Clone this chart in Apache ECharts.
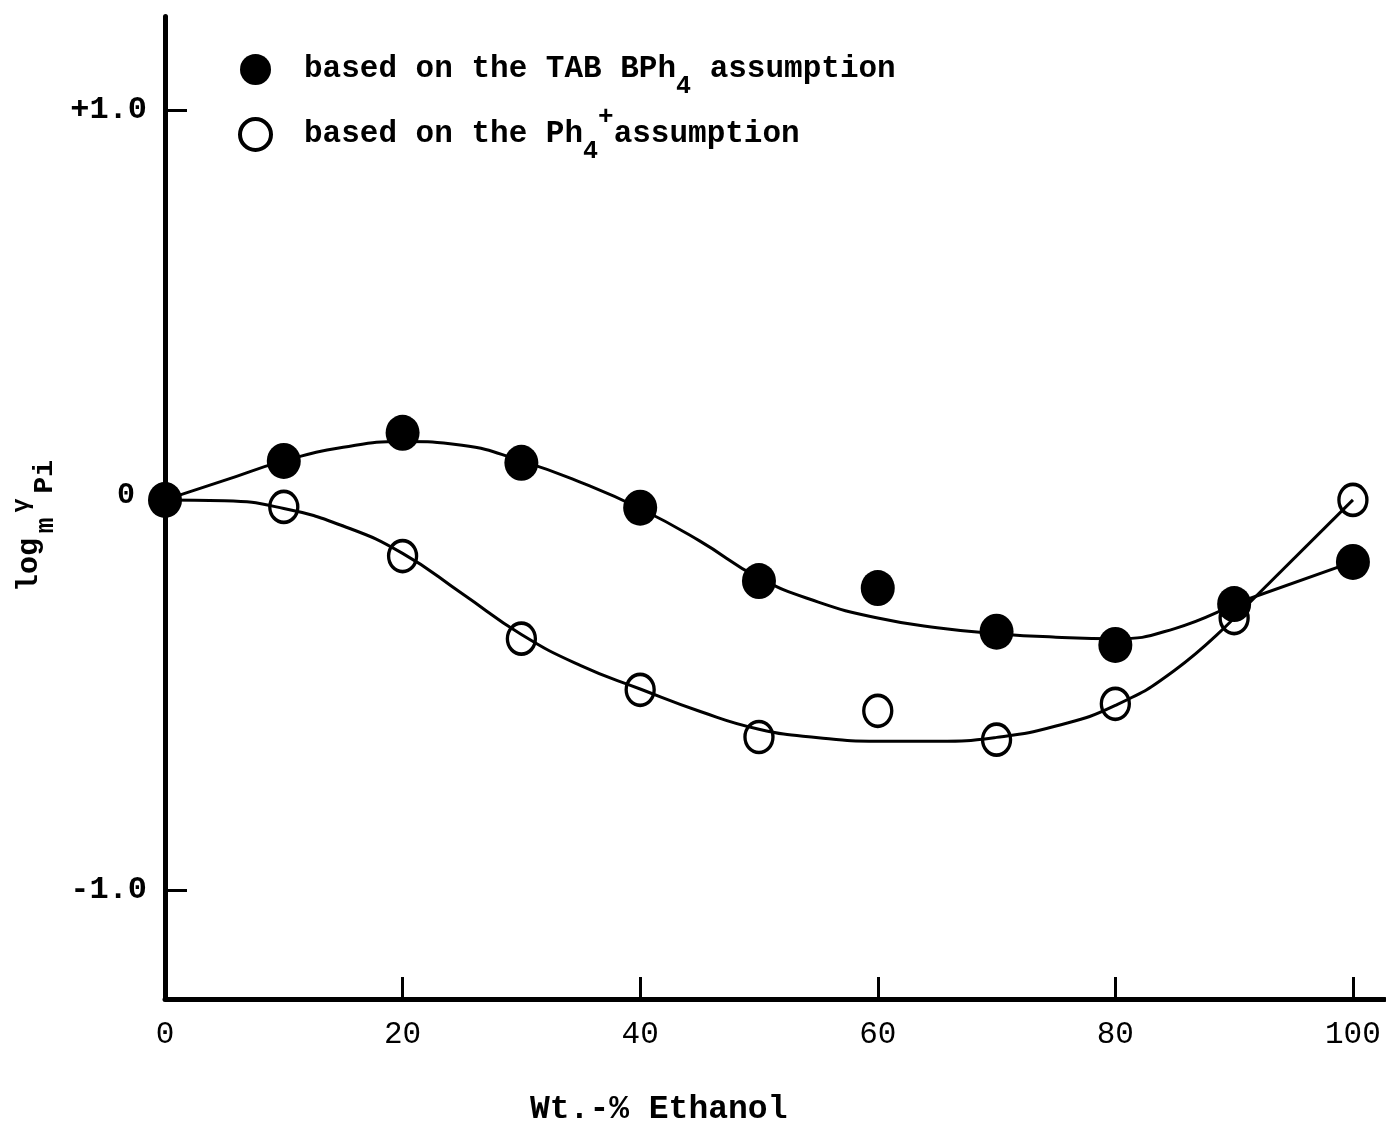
<!DOCTYPE html>
<html>
<head>
<meta charset="utf-8">
<script src="https://cdn.jsdelivr.net/npm/echarts@6/dist/echarts.min.js"></script>
<style>
html,body{margin:0;padding:0;background:#fff;}
#chart{width:1386px;height:1128px;}
</style>
</head>
<body>
<div id="chart"></div>
<script>
// ---- data ----
var ethanolPct = [0, 10, 20, 30, 40, 50, 60, 70, 80, 90, 100];
var tabBph4Values = [0, 0.10, 0.172, 0.095, -0.02, -0.208, -0.226, -0.338, -0.372, -0.267, -0.159];
var ph4Values = [0, -0.018, -0.144, -0.356, -0.487, -0.608, -0.541, -0.615, -0.523, -0.303, 0];

// hand-drawn fitted curves (0..90 smooth, 90..100 straight)
var curveX = [0, 5, 10, 15, 20, 25, 30, 35, 40, 45, 50, 55, 60, 65, 70, 75, 80, 85, 90];
var tabCurveY = [0, 0.05, 0.10, 0.135, 0.150, 0.140, 0.100, 0.045, -0.022, -0.105, -0.200, -0.262, -0.303, -0.328, -0.343, -0.352, -0.356, -0.330, -0.267];
var ph4CurveY = [0, -0.002, -0.022, -0.067, -0.137, -0.240, -0.345, -0.425, -0.485, -0.542, -0.588, -0.610, -0.619, -0.619, -0.609, -0.580, -0.527, -0.437, -0.303];
var tailX = [90, 100];
var tabTailY = [-0.267, -0.159];
var ph4TailY = [-0.303, 0];

var xTickLabels = [0, 20, 40, 60, 80, 100];
var xTicks = [20, 40, 60, 80, 100];
var yTickLabels = [-1, 0, 1];
var yTickText = {'-1': '-1.0', '0': '{z|0}', '1': '+1.0'};
var yTicks = [-1, 1];

function pairs(xs, ys) { return xs.map(function (x, i) { return [x, ys[i]]; }); }

var FONT = '"Liberation Mono", "DejaVu Sans Mono", monospace';
var chart = echarts.init(document.getElementById('chart'));

var curveStyle = { color: '#000', width: 3 };
function rs(size, lh, va, extra) {
  var o = { fontFamily: FONT, fontSize: size, fontWeight: 'bold', color: '#000', fill: '#000', lineHeight: lh, verticalAlign: va };
  if (extra) for (var k in extra) o[k] = extra[k];
  return o;
}

chart.setOption({
  animation: false,
  backgroundColor: '#fff',
  grid: { left: 165, right: 1, top: 16.4, bottom: 129, containLabel: false },
  legend: {
    orient: 'vertical',
    left: 233,
    top: 49,
    itemGap: 5,
    itemWidth: 31,
    itemHeight: 31,
    data: [
      { name: 'TAB', icon: 'circle', itemStyle: { color: '#000', borderWidth: 0, opacity: 1 } },
      { name: 'PH4', icon: 'circle', itemStyle: { color: '#fff', borderColor: '#000', borderWidth: 4, opacity: 1 } }
    ],
    formatter: function (name) {
      if (name === 'TAB') return '{g| }{t|based on the TAB BPh}{sub|4}{t| assumption}';
      return '{g| }{t|based on the Ph}{sub|4}{sup|+}{t|assumption}';
    },
    textStyle: {
      fontFamily: FONT, fontSize: 31, fontWeight: 'bold', color: '#000',
      rich: {
        g: rs(31, 60, 'middle', { width: 28 }),
        t: rs(31, 60, 'middle'),
        sub: rs(25, 27, 'bottom'),
        sup: rs(26, 43, 'top')
      }
    }
  },
  xAxis: {
    type: 'value',
    min: 0,
    max: 102.7,
    splitLine: { show: false },
    axisLine: { onZero: false, lineStyle: { color: '#000', width: 5 } },
    axisTick: { show: true, inside: true, length: 22, customValues: xTicks, lineStyle: { color: '#000', width: 3 } },
    axisLabel: { customValues: xTickLabels, margin: 20, fontFamily: FONT, fontSize: 31, color: '#000' }
  },
  yAxis: {
    type: 'value',
    min: -1.28,
    max: 1.24,
    splitLine: { show: false },
    axisLine: { show: true, onZero: false, lineStyle: { color: '#000', width: 5 } },
    axisTick: { show: true, inside: true, length: 22, customValues: yTicks, lineStyle: { color: '#000', width: 3 } },
    axisLabel: {
      customValues: yTickLabels, margin: 18, fontFamily: FONT, fontSize: 32, fontWeight: 'bold', color: '#000',
      formatter: function (v) { return yTickText[String(Math.round(v))]; },
      rich: { z: { fontFamily: FONT, fontSize: 30, fontWeight: 'bold', color: '#000', padding: [0, 12, 8, 0] } }
    }
  },
  graphic: [
    {
      type: 'text', left: 530, top: 1093,
      style: { text: 'Wt.-% Ethanol', fontFamily: FONT, fontSize: 33, fontWeight: 'bold', fill: '#000' }
    },
    {
      type: 'text', x: -1, y: 592, rotation: Math.PI / 2,
      style: {
        text: '{t|log}{sp| }{sub|m}{sp| }{sup|γ}{sp| }{sub2|Pi}',
        fontFamily: FONT, fill: '#000',
        rich: {
          t: rs(30, 60, 'middle'),
          sp: rs(8, 60, 'middle'),
          sub: rs(26, 50, 'bottom'),
          sup: rs(24, 40, 'top', { padding: [11, 0, 0, 0] }),
          sub2: rs(28, 41, 'bottom')
        }
      }
    }
  ],
  series: [
    { name: 'tabCurve', type: 'line', data: pairs(curveX, tabCurveY), smooth: 0.5, showSymbol: false, symbol: 'none', lineStyle: curveStyle, silent: true, z: 2 },
    { name: 'tabTail', type: 'line', data: pairs(tailX, tabTailY), showSymbol: false, symbol: 'none', lineStyle: curveStyle, silent: true, z: 2 },
    { name: 'ph4Curve', type: 'line', data: pairs(curveX, ph4CurveY), smooth: 0.5, showSymbol: false, symbol: 'none', lineStyle: curveStyle, silent: true, z: 2 },
    { name: 'ph4Tail', type: 'line', data: pairs(tailX, ph4TailY), showSymbol: false, symbol: 'none', lineStyle: curveStyle, silent: true, z: 2 },
    { name: 'PH4', type: 'scatter', data: pairs(ethanolPct, ph4Values), symbol: 'circle', symbolSize: [28, 31],
      itemStyle: { color: 'rgba(255,255,255,0)', borderColor: '#000', borderWidth: 3.5, opacity: 1 }, z: 4 },
    { name: 'TAB', type: 'scatter', data: pairs(ethanolPct, tabBph4Values), symbol: 'circle', symbolSize: [34, 36],
      itemStyle: { color: '#000', opacity: 1 }, z: 3 }
  ]
});
</script>
</body>
</html>
